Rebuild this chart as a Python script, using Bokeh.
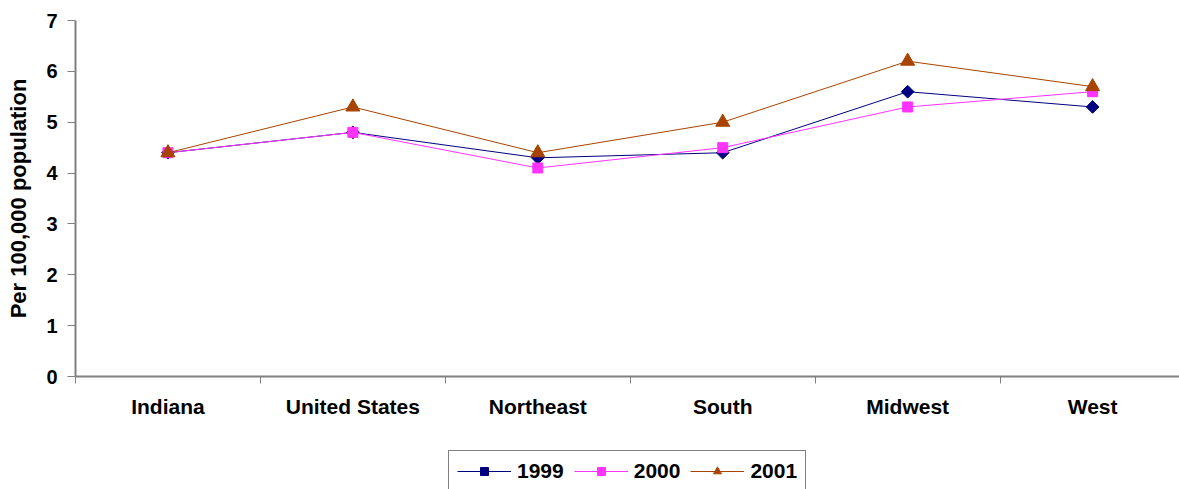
from bokeh.plotting import figure
from bokeh.layouts import column
from bokeh.models import Range1d, FixedTicker, Legend, LegendItem
from bokeh.embed import file_html
from bokeh.resources import INLINE

categories = ["Indiana", "United States", "Northeast", "South", "Midwest", "West"]
v1999 = [4.4, 4.8, 4.3, 4.4, 5.6, 5.3]
v2000 = [4.4, 4.8, 4.1, 4.5, 5.3, 5.6]
v2001 = [4.4, 5.3, 4.4, 5.0, 6.2, 5.7]
series_names = ["1999", "2000", "2001"]
y_ticks = [0, 1, 2, 3, 4, 5, 6, 7]

xs = [i + 0.5 for i in range(len(categories))]

p = figure(frame_width=1104, frame_height=356, output_backend="svg", toolbar_location=None,
           x_range=Range1d(0, 5.97), y_range=Range1d(0, 7))
p.min_border_left = 75
p.min_border_right = 0
p.min_border_top = 20
p.min_border_bottom = 54
p.outline_line_color = None
p.xgrid.grid_line_color = None
p.ygrid.grid_line_color = None

FONT = "Liberation Sans"

# x axis
xa = p.xaxis[0]
xa.ticker = FixedTicker(ticks=xs, minor_ticks=list(range(0, 7)))
xa.major_label_overrides = {x: c for x, c in zip(xs, categories)}
xa.major_tick_line_color = None
xa.minor_tick_line_color = "#808080"
xa.minor_tick_out = 7
xa.minor_tick_in = 0
xa.axis_line_color = "#808080"
xa.axis_line_width = 2
xa.major_label_standoff = 11
xa.major_label_text_font = FONT
xa.major_label_text_font_style = "bold"
xa.major_label_text_font_size = "21px"
xa.major_label_text_color = "black"

# y axis
ya = p.yaxis[0]
ya.ticker = FixedTicker(ticks=y_ticks)
ya.minor_tick_line_color = None
ya.major_tick_line_color = "#808080"
ya.major_tick_out = 8
ya.major_tick_in = 0
ya.axis_line_color = "#808080"
ya.axis_line_width = 2
ya.major_label_standoff = 10
ya.major_label_text_font = FONT
ya.major_label_text_font_style = "bold"
ya.major_label_text_font_size = "20px"
ya.major_label_text_color = "black"
ya.axis_label = "Per 100,000 population"
ya.axis_label_text_font = FONT
ya.axis_label_text_font_style = "bold"
ya.axis_label_text_font_size = "22px"
ya.axis_label_text_color = "black"
ya.axis_label_standoff = 12

colors = ["#000080", "#FF33FF", "#A84400"]
markers = [("square", 0.785398, 9), ("square", 0.0, 10), ("triangle", 0.0, 14)]
values = [v1999, v2000, v2001]

for vals, col, (mk, ang, sz) in zip(values, colors, markers):
    p.line(xs, vals, line_color=col, line_width=1)
    p.scatter(xs, vals, marker=mk, angle=ang, size=sz, fill_color=col, line_color=col)

# legend strip: a separate figure below the chart; its ranges keep the series out of view
lf = figure(width=1179, height=59, output_backend="svg", toolbar_location=None,
            x_axis_location=None, y_axis_location=None,
            x_range=Range1d(100, 101), y_range=Range1d(100, 101))
lf.min_border = 0
lf.outline_line_color = None
lf.xgrid.grid_line_color = None
lf.ygrid.grid_line_color = None

items = []
for name, vals, col, (mk, ang, sz) in zip(series_names, values, colors, markers):
    lr = lf.line(xs, vals, line_color=col, line_width=1)
    sr = lf.scatter(xs, vals, marker=mk, angle=ang, size=sz, fill_color=col, line_color=col)
    items.append(LegendItem(label=name, renderers=[lr, sr]))

legend = Legend(items=items, orientation="horizontal", location=(373, -3))
legend.label_text_font = FONT
legend.label_text_font_style = "bold"
legend.label_text_font_size = "21px"
legend.label_text_color = "black"
legend.glyph_width = 54
legend.glyph_height = 20
legend.border_line_color = "black"
legend.border_line_width = 1
legend.padding = 8
legend.spacing = 10
legend.margin = 0
legend.label_standoff = 6
lf.add_layout(legend, "center")

layout = column(p, lf, spacing=0)
open("out.html", "w").write(file_html(layout, INLINE))
